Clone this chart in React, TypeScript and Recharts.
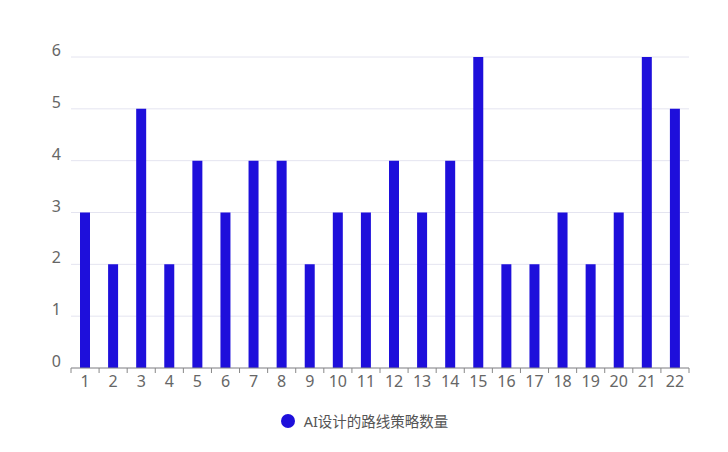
import { BarChart, Bar, XAxis, YAxis, CartesianGrid } from 'recharts';

const rounds = ['1', '2', '3', '4', '5', '6', '7', '8', '9', '10', '11', '12', '13', '14', '15', '16', '17', '18', '19', '20', '21', '22'];
const strategyCounts = [3, 2, 5, 2, 4, 3, 4, 4, 2, 3, 3, 4, 3, 4, 6, 2, 2, 3, 2, 3, 6, 5];
const yTicks = [0, 1, 2, 3, 4, 5, 6];
const seriesName = 'AI设计的路线策略数量';

const BAR_COLOR = '#1e0fdb';
const AXIS_COLOR = '#888';
const LABEL_COLOR = '#666';
const FONT = '"Noto Sans", "Noto Sans CJK SC", sans-serif';

const chartData = rounds.map((r, i) => ({ round: r, count: strategyCounts[i] }));

// category label plus a small tick on the band's left edge (and right edge for the last one)
function BoundaryTick(props: any) {
  const { x, y, payload, index } = props;
  const half = payload.offset ?? 0;
  const isLast = index === rounds.length - 1;
  return (
    <g>
      <line x1={x - half} x2={x - half} y1={y} y2={y + 5} stroke={AXIS_COLOR} />
      {isLast && <line x1={x + half} x2={x + half} y1={y} y2={y + 5} stroke={AXIS_COLOR} />}
      <text x={x} y={y + 19} textAnchor="middle" fill={LABEL_COLOR} fontSize={16} fontFamily={FONT}>
        {payload.value}
      </text>
    </g>
  );
}

// value labels sit just above their grid line
function ValueTick(props: any) {
  const { x, y, payload } = props;
  return (
    <text x={x} y={y - 1} textAnchor="end" fill={LABEL_COLOR} fontSize={16} fontFamily={FONT}>
      {payload.value}
    </text>
  );
}

export default function App() {
  return (
    <div style={{ position: 'absolute', left: 0, top: 0, width: 728, height: 452, background: '#fff' }}>
      <BarChart
        width={728}
        height={452}
        data={chartData}
        margin={{ top: 57, right: 39, bottom: 54, left: 0 }}
        style={{ fontFamily: FONT }}
      >
        <CartesianGrid horizontal vertical={false} stroke="#e4e4f0" />
        <XAxis
          dataKey="round"
          height={30}
          axisLine={{ stroke: AXIS_COLOR }}
          tickLine={false}
          tickSize={0}
          tickMargin={0}
          interval={0}
          tick={BoundaryTick}
        />
        <YAxis
          width={71}
          domain={[0, 6]}
          ticks={yTicks}
          axisLine={false}
          tickLine={false}
          tickSize={0}
          tickMargin={10}
          tick={ValueTick}
        />
        <Bar dataKey="count" name={seriesName} fill={BAR_COLOR} barSize={10} isAnimationActive={false} />
      </BarChart>
      <div
        style={{
          position: 'absolute',
          top: 410,
          left: 0,
          width: 728,
          display: 'flex',
          justifyContent: 'center',
          alignItems: 'center',
          fontFamily: FONT,
        }}
      >
        <svg width={16} height={16} style={{ marginRight: 8 }}>
          <circle cx={8} cy={8} r={7} fill={BAR_COLOR} />
        </svg>
        <span style={{ fontSize: 14.5, color: '#555' }}>{seriesName}</span>
      </div>
    </div>
  );
}
